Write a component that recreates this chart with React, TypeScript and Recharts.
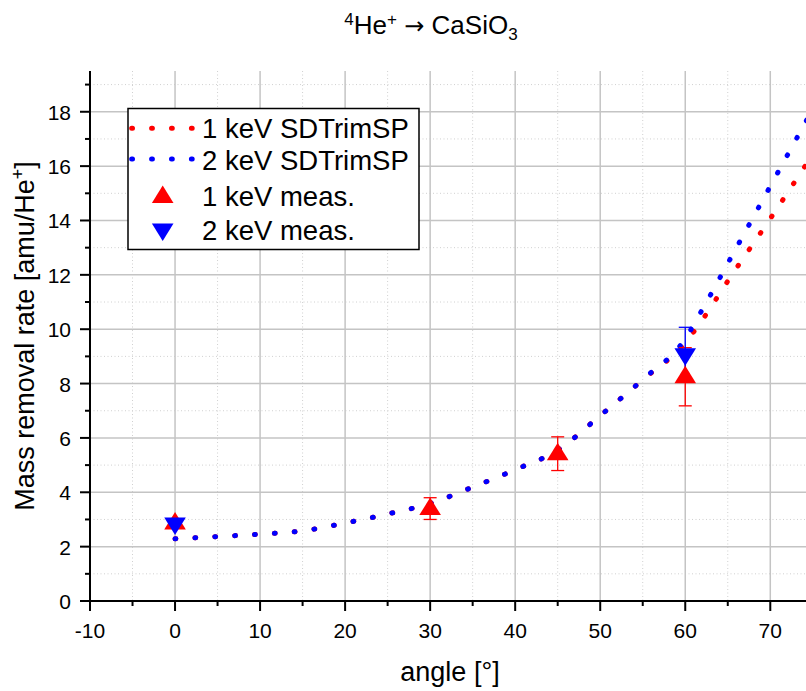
import React from "react";
import {
  ComposedChart,
  Line,
  Scatter,
  ErrorBar,
  XAxis,
  YAxis,
  CartesianGrid,
} from "recharts";

// SDTrimSP simulation curves
const simAngles = [0, 5, 10, 15, 20, 25, 30, 35, 40, 45, 50, 55, 60, 62, 65, 70, 75];
const sim1keV = [2.29, 2.37, 2.46, 2.58, 2.87, 3.2, 3.59, 4.19, 4.83, 5.55, 6.82, 8.14, 9.5, 10.34, 11.77, 14.07, 16.43];
const sim2keV = [2.29, 2.37, 2.46, 2.58, 2.87, 3.2, 3.59, 4.19, 4.83, 5.55, 6.82, 8.15, 9.65, 10.72, 12.42, 15.26, 18.1];

// measurements
const meas1Angles = [0, 30, 45, 60];
const meas1Values = [2.87, 3.4, 5.42, 8.25];
const meas1Errors = [0.15, 0.4, 0.62, 1.07];

const meas2Angles = [0, 60];
const meas2Values = [2.83, 9.06];
const meas2Errors = [0.1, 1.01];

const xMajor = [-10, 0, 10, 20, 30, 40, 50, 60, 70];
const xMinor = [-5, 5, 15, 25, 35, 45, 55, 65];
const yMajor = [0, 2, 4, 6, 8, 10, 12, 14, 16, 18];
const yMinor = [1, 3, 5, 7, 9, 11, 13, 15, 17, 19];

const RED = "#ff0000";
const BLUE = "#0000ff";
const FONT = "'Liberation Sans', Arial, sans-serif";
const DOTS = "0.8 19.1";
const DOT_W = 5;

const sim1 = simAngles.map((x, i) => ({ x, y: sim1keV[i] }));
const sim2 = simAngles.map((x, i) => ({ x, y: sim2keV[i] }));
const meas1 = meas1Angles.map((x, i) => ({ x, y: meas1Values[i], err: meas1Errors[i] }));
const meas2 = meas2Angles.map((x, i) => ({ x, y: meas2Values[i], err: meas2Errors[i] }));

const upTri = (cx: number, cy: number) =>
  `${cx},${cy - 11} ${cx - 10.8},${cy + 6.5} ${cx + 10.8},${cy + 6.5}`;
const downTri = (cx: number, cy: number) =>
  `${cx},${cy + 11} ${cx - 10.8},${cy - 6.5} ${cx + 10.8},${cy - 6.5}`;

const XTick = (props: any) => {
  const { x, y, payload } = props;
  const major = xMajor.includes(payload.value);
  return (
    <g>
      <line x1={x} x2={x} y1={y} y2={y + (major ? 10 : 5)} stroke="#000" strokeWidth={2} />
      {major && (
        <text x={x} y={y + 37} textAnchor="middle" fontSize={21} fontFamily={FONT} fill="#000">
          {payload.value}
        </text>
      )}
    </g>
  );
};

const YTick = (props: any) => {
  const { x, y, payload } = props;
  const major = yMajor.includes(payload.value);
  return (
    <g>
      <line x1={x - (major ? 10 : 5)} x2={x} y1={y} y2={y} stroke="#000" strokeWidth={2} />
      {major && (
        <text x={x - 19} y={y + 8} textAnchor="end" fontSize={21} fontFamily={FONT} fill="#000">
          {payload.value}
        </text>
      )}
    </g>
  );
};

export default function App() {
  return (
    <div style={{ position: "absolute", left: 0, top: 0, width: 806, height: 691, background: "#fff", fontFamily: FONT }}>
      <ComposedChart width={806} height={691} margin={{ top: 71, right: 0, bottom: 0, left: 0 }}>
        <CartesianGrid
          verticalValues={xMinor}
          horizontalValues={yMinor}
          stroke="#d0d0d0"
          strokeWidth={1}
          strokeDasharray="1 2.5"
        />
        <CartesianGrid
          verticalValues={xMajor.slice(1)}
          horizontalValues={yMajor.slice(1)}
          stroke="#c4c4c4"
          strokeWidth={1.5}
        />
        <XAxis
          type="number"
          dataKey="x"
          domain={[-10, 74.2]}
          allowDataOverflow
          ticks={[...xMajor, ...xMinor]}
          interval={0}
          tick={<XTick />}
          tickLine={false}
          tickSize={0}
          tickMargin={0}
          height={90}
          axisLine={{ stroke: "#000", strokeWidth: 2 }}
        />
        <YAxis
          type="number"
          dataKey="y"
          domain={[0, 19.5]}
          allowDataOverflow
          ticks={[...yMajor, ...yMinor]}
          interval={0}
          tick={<YTick />}
          tickLine={false}
          tickSize={0}
          tickMargin={0}
          width={90}
          axisLine={{ stroke: "#000", strokeWidth: 2 }}
        />
        <Line
          data={sim1}
          dataKey="y"
          type="monotone"
          stroke={RED}
          strokeWidth={DOT_W}
          strokeDasharray={DOTS}
          strokeLinecap="round"
          dot={false}
          activeDot={false}
          isAnimationActive={false}
        />
        <Line
          data={sim2}
          dataKey="y"
          type="monotone"
          stroke={BLUE}
          strokeWidth={DOT_W}
          strokeDasharray={DOTS}
          strokeLinecap="round"
          dot={false}
          activeDot={false}
          isAnimationActive={false}
        />
        <Scatter
          data={meas1}
          dataKey="y"
          fill={RED}
          isAnimationActive={false}
          shape={(p: any) => <polygon points={upTri(p.cx, p.cy)} fill={RED} />}
        >
          <ErrorBar dataKey="err" direction="y" width={6.5} stroke={RED} strokeWidth={1.3} />
        </Scatter>
        <Scatter
          data={meas2}
          dataKey="y"
          fill={BLUE}
          isAnimationActive={false}
          shape={(p: any) => <polygon points={downTri(p.cx, p.cy)} fill={BLUE} />}
        >
          <ErrorBar dataKey="err" direction="y" width={6.5} stroke={BLUE} strokeWidth={1.3} />
        </Scatter>
      </ComposedChart>

      <svg
        width={806}
        height={691}
        style={{ position: "absolute", left: 0, top: 0, pointerEvents: "none" }}
        fontFamily={FONT}
      >
        <text x={431} y={34} textAnchor="middle" fontSize={26} fill="#000">
          <tspan fontSize={17} dy={-9}>4</tspan>
          <tspan dy={9}>He</tspan>
          <tspan fontSize={17} dy={-9}>+</tspan>
          <tspan dy={9}> </tspan>
          <tspan fontFamily="'DejaVu Sans', sans-serif" fontSize={24}>→</tspan>
          <tspan> CaSiO</tspan>
          <tspan fontSize={17} dy={6}>3</tspan>
        </text>

        <text x={450} y={681} textAnchor="middle" fontSize={27} fill="#000">
          angle [°]
        </text>

        <text
          transform="translate(33.5,336) rotate(-90)"
          textAnchor="middle"
          fontSize={27}
          fill="#000"
        >
          <tspan>Mass removal rate [amu/He</tspan>
          <tspan fontSize={18} dy={-10}>+</tspan>
          <tspan dy={10}>]</tspan>
        </text>

        <rect x={128} y={108.5} width={291} height={141} fill="#fff" stroke="#000" strokeWidth={1.5} />
        <line x1={131.7} x2={196} y1={128.3} y2={128.3} stroke={RED} strokeWidth={DOT_W} strokeDasharray={DOTS} strokeLinecap="round" />
        <text x={202} y={138} fontSize={27.5} fill="#000">1 keV SDTrimSP</text>
        <line x1={131.7} x2={196} y1={159} y2={159} stroke={BLUE} strokeWidth={DOT_W} strokeDasharray={DOTS} strokeLinecap="round" />
        <text x={202} y={170} fontSize={27.5} fill="#000">2 keV SDTrimSP</text>
        <polygon points={upTri(162.7, 196.5)} fill={RED} />
        <text x={202} y={206} fontSize={27.5} fill="#000">1 keV meas.</text>
        <polygon points={downTri(162.7, 230)} fill={BLUE} />
        <text x={202} y={240} fontSize={27.5} fill="#000">2 keV meas.</text>
      </svg>
    </div>
  );
}
